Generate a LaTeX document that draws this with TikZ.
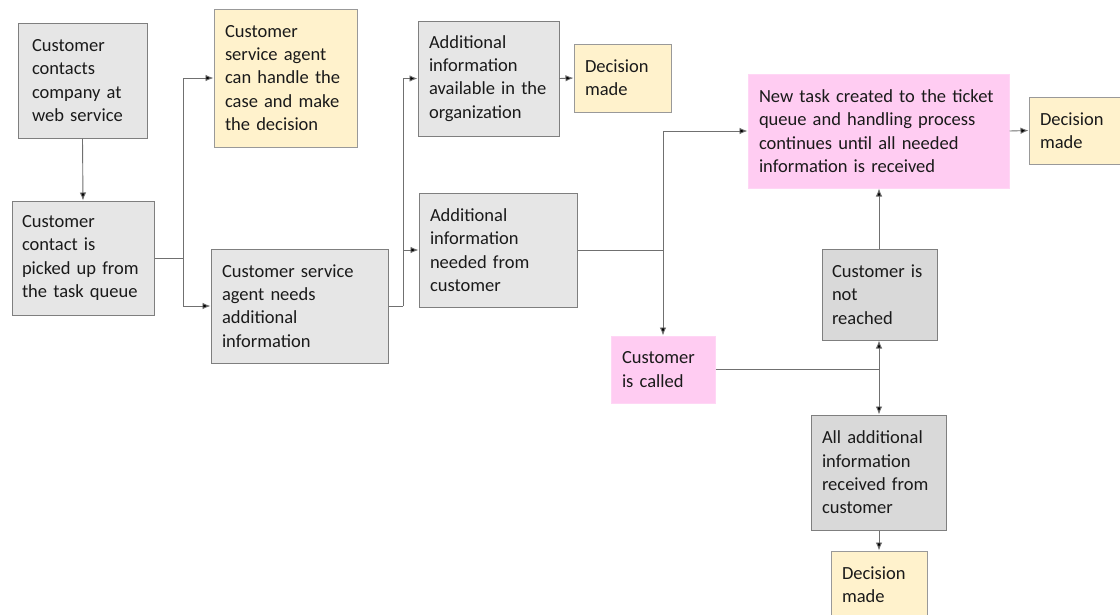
\documentclass[tikz,border=0pt]{standalone}
\usepackage{fontspec}
\setmainfont{Carlito}
\usetikzlibrary{arrows.meta}
\definecolor{gfill}{HTML}{E6E6E6}
\definecolor{gdark}{HTML}{D9D9D9}
\definecolor{yfill}{HTML}{FFF2CC}
\definecolor{pfill}{HTML}{FFCCF2}
\definecolor{bord}{HTML}{7F7F7F}
\definecolor{txt}{HTML}{1A1A1A}
\definecolor{lin}{HTML}{707070}
\tikzset{
  bx/.style={rectangle, draw=bord, line width=1pt, inner xsep=11pt, inner ysep=0pt,
    align=left, text=txt, font=\fontsize{18.5}{23.3}\selectfont},
  grey/.style={bx, fill=gfill},
  greyd/.style={bx, fill=gdark},
  yel/.style={bx, fill=yfill, draw=bord!80},
  pink/.style={bx, fill=pfill, draw=pfill!80!white},
  conn/.style={draw=lin, line width=0.9pt, -{Latex[length=8pt,width=6.5pt,fill=black]}},
  plain/.style={draw=lin, line width=0.9pt},
}
\begin{document}
\begin{tikzpicture}[x=1pt,y=-1pt]
\useasboundingbox (0,0) rectangle (1120,614);
\clip (0,0) rectangle (1120,614);
\fill[white] (0,0) rectangle (1120,614);
\node[grey, inner xsep=14pt, minimum width=129pt, minimum height=115pt, text width=101pt] (A) at (82.5,80.5) {Customer\\contacts\\company at\\web service};
\node[grey, inner xsep=10pt, minimum width=142pt, minimum height=114pt, text width=122pt] (B) at (83,258) {Customer\\contact is\\picked up from\\the task queue};
\node[yel, minimum width=143pt, minimum height=138pt, text width=121pt] (C) at (285.5,78) {Customer\\service agent\\can handle the\\case and make\\the decision};
\node[grey, minimum width=177pt, minimum height=114pt, text width=155pt] (D) at (299.5,306) {Customer service\\agent needs\\additional\\information};
\node[grey, minimum width=141pt, minimum height=115pt, text width=119pt] (E) at (488.5,78.5) {Additional\\information\\available in the\\organization};
\node[yel, minimum width=97pt, minimum height=68pt, text width=75pt] (F) at (622.5,78) {Decision\\made};
\node[grey, minimum width=158pt, minimum height=114pt, text width=136pt] (G) at (498,250) {Additional\\information\\needed from\\customer};
\node[pink, minimum width=261pt, minimum height=114pt, text width=239pt] (H) at (878.5,131) {New task created to the ticket\\queue and handling process\\continues until all needed\\information is received};
\node[yel, minimum width=97pt, minimum height=67pt, text width=75pt] (I) at (1077.5,130.5) {Decision\\made};
\node[greyd, inner xsep=10pt, minimum width=115pt, minimum height=91pt, text width=95pt] (J) at (879.5,294.5) {Customer is\\not\\reached};
\node[pink, minimum width=104pt, minimum height=67pt, text width=82pt] (K) at (663,369.5) {Customer\\is called};
\node[greyd, minimum width=135pt, minimum height=115pt, text width=113pt] (L) at (878.5,472.5) {All additional\\information\\received from\\customer};
\node[yel, minimum width=96pt, minimum height=67pt, text width=74pt] (M) at (879,584.5) {Decision\\made};

\coordinate (jb) at (183,258);
\coordinate (jd) at (403,306);
\coordinate (jg) at (663,250);
\coordinate (jk) at (879,369.5);

\draw[conn] (A.south) -- (B.north);
\draw[plain] (B.east) -- (jb);
\draw[conn] (jb) |- (C.west);
\draw[conn] (jb) |- (D.west);
\draw[plain] (D.east) -- (jd);
\draw[conn] (jd) |- (E.west);
\draw[conn] (jd) |- (G.west);
\draw[conn] (E.east) -- (F.west);
\draw[plain] (G.east) -- (jg);
\draw[conn] (jg) |- (H.west);
\draw[conn] (jg) -- (K.north);
\draw[conn] (H.east) -- (I.west);
\draw[conn] (J.north -| jk) -- (jk |- H.south);
\draw[plain] (K.east) -- (jk);
\draw[conn] (jk) -- (jk |- J.south);
\draw[conn] (jk) -- (jk |- L.north);
\draw[conn] (L.south -| jk) -- (jk |- M.north);
\end{tikzpicture}
\end{document}
